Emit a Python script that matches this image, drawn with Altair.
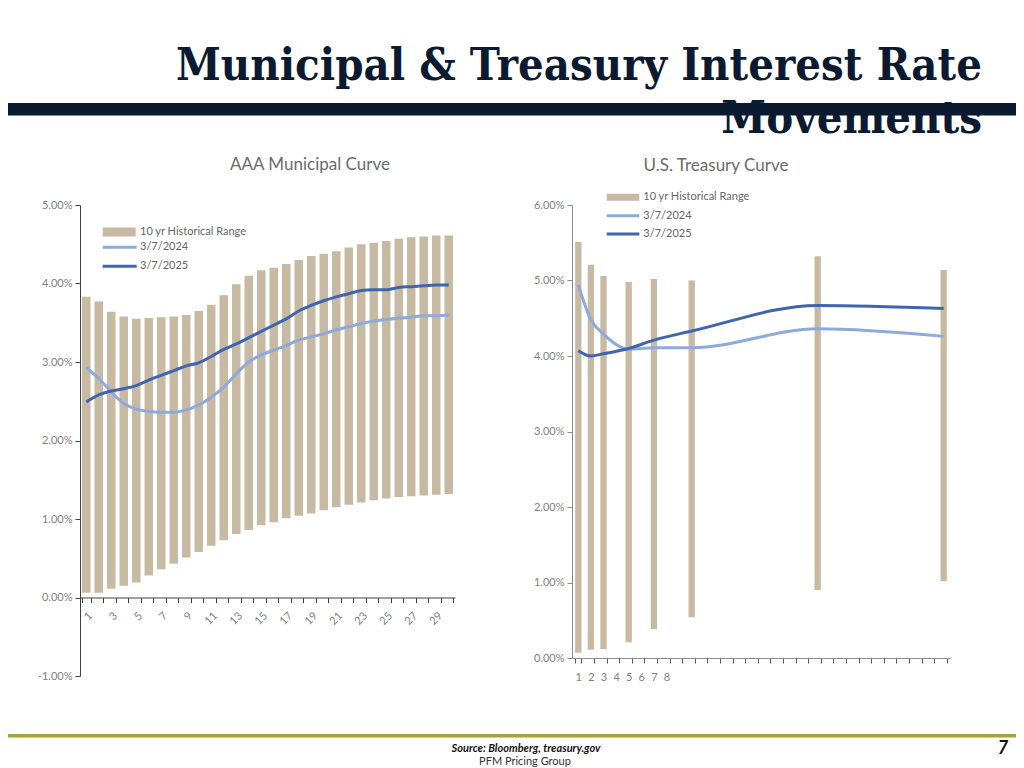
import altair as alt
import pandas as pd

# ---------------- data ----------------
muni_maturity = list(range(1, 31))
muni_low = [0.06, 0.06, 0.11, 0.15, 0.19, 0.28, 0.36, 0.43, 0.51, 0.58,
            0.66, 0.73, 0.81, 0.86, 0.92, 0.96, 1.01, 1.04, 1.07, 1.11,
            1.15, 1.18, 1.21, 1.24, 1.26, 1.28, 1.29, 1.30, 1.31, 1.32]
muni_high = [3.83, 3.77, 3.64, 3.58, 3.55, 3.56, 3.57, 3.58, 3.60, 3.65,
             3.73, 3.85, 3.99, 4.10, 4.17, 4.20, 4.25, 4.30, 4.35, 4.38,
             4.41, 4.46, 4.50, 4.52, 4.54, 4.57, 4.59, 4.60, 4.61, 4.61]
muni_2024 = [2.93, 2.79, 2.62, 2.47, 2.40, 2.37, 2.36, 2.36, 2.39, 2.45,
             2.55, 2.68, 2.85, 3.00, 3.09, 3.15, 3.21, 3.28, 3.32, 3.36,
             3.41, 3.45, 3.49, 3.52, 3.54, 3.56, 3.57, 3.59, 3.59, 3.60]
muni_2025 = [2.49, 2.58, 2.63, 2.66, 2.70, 2.77, 2.83, 2.89, 2.95, 2.99,
             3.07, 3.16, 3.23, 3.31, 3.39, 3.47, 3.55, 3.65, 3.72, 3.78,
             3.83, 3.87, 3.91, 3.92, 3.92, 3.95, 3.96, 3.97, 3.98, 3.98]

tsy_axis_slots = list(range(1, 31))
tsy_maturity = [1, 2, 3, 5, 7, 10, 20, 30]
tsy_low = [0.07, 0.11, 0.12, 0.21, 0.38, 0.54, 0.90, 1.02]
tsy_high = [5.51, 5.21, 5.06, 4.98, 5.02, 5.00, 5.32, 5.14]
tsy_2024 = [4.94, 4.48, 4.29, 4.09, 4.11, 4.11, 4.36, 4.26]
tsy_2025 = [4.07, 4.00, 4.03, 4.10, 4.21, 4.33, 4.67, 4.63]

legend_labels = ["10 yr Historical Range", "3/7/2024", "3/7/2025"]
muni_ticks = [-1, 0, 1, 2, 3, 4, 5]
tsy_ticks = [0, 1, 2, 3, 4, 5, 6]

# ---------------- styles ----------------
TAN = "#C8B9A2"
LIGHT = "#8EAADB"
DARK = "#3F65B0"
NAVY = "#0B1A31"
OLIVE = "#A8A13F"
LABEL = "#7F7F7F"
LEG = "#666666"
FONT = "Lato"
TITLE_FONT = "DejaVu Serif Condensed"

muni = pd.DataFrame({"mat": muni_maturity, "low": muni_low, "high": muni_high,
                     "v2024": muni_2024, "v2025": muni_2025})
tsy = pd.DataFrame({"mat": tsy_maturity, "low": tsy_low, "high": tsy_high,
                    "v2024": tsy_2024, "v2025": tsy_2025})
one = pd.DataFrame({"d": [0]})

pct_expr = "(datum.value < 0 ? '-' : '') + format(abs(datum.value), '.2f') + '%'"


def y_enc(field, domain, ticks, axis_color):
    return alt.Y(f"{field}:Q", title=None,
                 scale=alt.Scale(domain=domain, nice=False, zero=False),
                 axis=alt.Axis(values=ticks, labelExpr=pct_expr, grid=False,
                               domainColor=axis_color, tickColor=axis_color,
                               tickSize=5, labelPadding=3, labelColor=LABEL,
                               labelFont=FONT, labelFontSize=11, title=None))


def txt(text, x, y, size=11, color=LEG, align="left", weight="normal",
        style="normal", font=FONT, baseline="middle"):
    return alt.Chart(one).mark_text(
        text=text, align=align, baseline=baseline, fontSize=size, color=color,
        fontWeight=weight, fontStyle=style, font=font
    ).encode(x=alt.value(x), y=alt.value(y))


def box(x, x2, y, y2, color, opacity=1.0):
    return alt.Chart(one).mark_rect(color=color, opacity=opacity).encode(
        x=alt.value(x), x2=alt.value(x2), y=alt.value(y), y2=alt.value(y2))


def rule(x, x2, y, color, width):
    return alt.Chart(one).mark_rule(color=color, strokeWidth=width).encode(
        x=alt.value(x), x2=alt.value(x2), y=alt.value(y))


# ---------------- left panel: AAA Municipal ----------------
# plot origin is at page (80, 205)
mx = alt.X("mat:O", title=None,
           scale=alt.Scale(domain=muni_maturity, paddingInner=0.32, paddingOuter=0.16),
           axis=alt.Axis(title=None, offset=-78.5, labelAngle=-45, labelOverlap=False,
                         labelExpr="datum.value % 2 == 1 ? datum.label : ''",
                         tickBand="extent", tickSize=5, tickColor="#404040",
                         domainColor="#404040", labelColor=LABEL, labelFont=FONT,
                         labelFontSize=11, labelPadding=7, grid=False))

m_bars = alt.Chart(muni).mark_bar(color=TAN).encode(
    x=mx, y=y_enc("low", [-1, 5], muni_ticks, "#404040"), y2="high:Q")
m_l24 = alt.Chart(muni).mark_line(color=LIGHT, strokeWidth=3, interpolate="monotone").encode(
    x=mx, y=y_enc("v2024", [-1, 5], muni_ticks, "#404040"))
m_l25 = alt.Chart(muni).mark_line(color=DARK, strokeWidth=3, interpolate="monotone").encode(
    x=mx, y=y_enc("v2025", [-1, 5], muni_ticks, "#404040"))

page_layers = [
    box(-72, 936, -197, 561, "white", 0.0),                     # page extent
    txt("Movements", 902, -72, 45, NAVY, "right", "bold", font=TITLE_FONT,
        baseline="alphabetic"),
    txt("Municipal & Treasury Interest Rate", 902, -125, 45, NAVY, "right", "bold",
        font=TITLE_FONT, baseline="alphabetic"),
    box(-72, 936, -102, -89.5, NAVY),
    box(-72, 936, 529, 532.5, OLIVE),
    txt("Source: Bloomberg, treasury.gov", 446, 543.5, 11, "#111111", "center",
        "bold", "italic"),
    txt("PFM Pricing Group", 445, 556.5, 11, "#333333", "center"),
    txt("7", 923, 544, 18, "#111111", "center", "bold", "italic"),
    txt("AAA Municipal Curve", 230, -40, 17, "#6B6B6B", "center"),
    box(22.7, 55.7, 22.5, 31.5, TAN),
    rule(22.7, 56.7, 42.3, LIGHT, 3),
    rule(22.7, 56.7, 61.3, DARK, 3),
    txt(legend_labels[0], 60, 27, 11, LEG),
    txt(legend_labels[1], 60, 42.3, 11, LEG),
    txt(legend_labels[2], 60, 61.3, 11, LEG),
]

left = alt.layer(*page_layers, m_bars, m_l24, m_l25).properties(width=375, height=471)

# ---------------- right panel: U.S. Treasury ----------------
# plot origin is at page (572, 205)
tx = alt.X("mat:O", title=None,
           scale=alt.Scale(domain=tsy_axis_slots, paddingInner=0.5, paddingOuter=0.25),
           axis=alt.Axis(title=None, labelAngle=0, labelOverlap=False,
                         labelExpr="datum.value <= 8 ? datum.label : ''",
                         tickBand="extent", tickSize=5, tickColor="#595959",
                         domainColor="#8C8C8C", labelColor=LABEL, labelFont=FONT,
                         labelFontSize=11, labelPadding=8, grid=False))

t_bars = alt.Chart(tsy).mark_bar(color=TAN).encode(
    x=tx, y=y_enc("low", [0, 6], tsy_ticks, "#8C8C8C"), y2="high:Q")
t_l24 = alt.Chart(tsy).mark_line(color=LIGHT, strokeWidth=3, interpolate="monotone").encode(
    x=tx, y=y_enc("v2024", [0, 6], tsy_ticks, "#8C8C8C"))
t_l25 = alt.Chart(tsy).mark_line(color=DARK, strokeWidth=3, interpolate="monotone").encode(
    x=tx, y=y_enc("v2025", [0, 6], tsy_ticks, "#8C8C8C"))

right_deco = [
    txt("U.S. Treasury Curve", 144, -39, 17, "#6B6B6B", "center"),
    box(34.7, 67.3, -11.2, -4.2, TAN),
    rule(34.7, 67.3, 10.7, LIGHT, 3),
    rule(34.7, 67.3, 29, DARK, 3),
    txt(legend_labels[0], 71.3, -7.7, 11, LEG),
    txt(legend_labels[1], 71.3, 10.7, 11, LEG),
    txt(legend_labels[2], 71.3, 29, 11, LEG),
]

right = alt.layer(*right_deco, t_bars, t_l24, t_l25).properties(width=378, height=453)

chart = alt.hconcat(left, right, spacing=117, bounds="flush").resolve_scale(
    x="independent", y="independent"
).properties(padding=0).configure_view(strokeWidth=0)

chart.save("out.html", embed_options={"renderer": "svg", "actions": False})
